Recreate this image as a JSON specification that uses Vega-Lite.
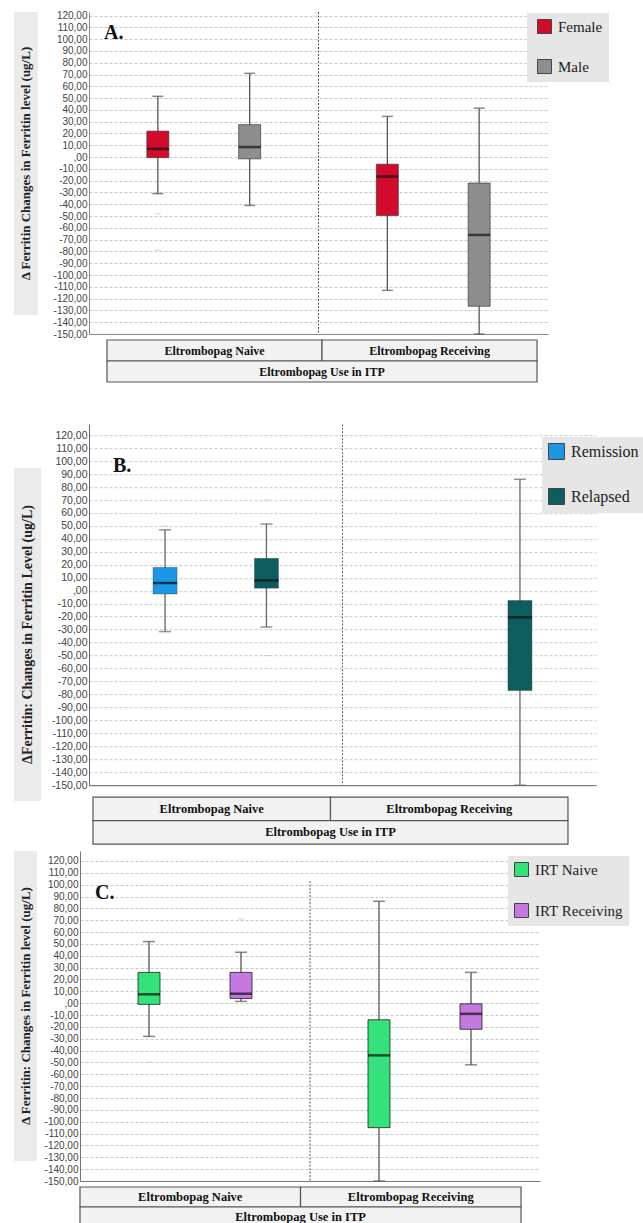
{
  "$schema": "https://vega.github.io/schema/vega-lite/v6.json",
  "background": "white",
  "padding": {"left": 14, "top": 10, "right": 0, "bottom": 0},
  "config": {
    "view": {"stroke": null},
    "font": "Liberation Sans"
  },
  "datasets": {
    "boxA": [
      {"use": "Eltrombopag Naive", "group": "Female", "min": -31, "q1": -0.5, "med": 7, "q3": 22, "max": 51.5},
      {"use": "Eltrombopag Naive", "group": "Male", "min": -41, "q1": -1.5, "med": 8.5, "q3": 27.5, "max": 71},
      {"use": "Eltrombopag Receiving", "group": "Female", "min": -113, "q1": -49.5, "med": -16.5, "q3": -6, "max": 34.5},
      {"use": "Eltrombopag Receiving", "group": "Male", "min": -150, "q1": -126.5, "med": -66, "q3": -22, "max": 41.5}
    ],
    "outA": [
      {"use": "Eltrombopag Naive", "group": "Female", "v": -48},
      {"use": "Eltrombopag Naive", "group": "Female", "v": -79}
    ],
    "boxB": [
      {"use": "Eltrombopag Naive", "group": "Remission", "min": -31.5, "q1": -2.5, "med": 6, "q3": 18, "max": 47},
      {"use": "Eltrombopag Naive", "group": "Relapsed", "min": -28, "q1": 2, "med": 8, "q3": 25, "max": 51.5},
      {"use": "Eltrombopag Receiving", "group": "Relapsed", "min": -150, "q1": -77, "med": -20.5, "q3": -7.5, "max": 86}
    ],
    "outB": [
      {"use": "Eltrombopag Naive", "group": "Remission", "v": 50},
      {"use": "Eltrombopag Naive", "group": "Relapsed", "v": 70},
      {"use": "Eltrombopag Naive", "group": "Relapsed", "v": -50}
    ],
    "boxC": [
      {"use": "Eltrombopag Naive", "group": "IRT Naive", "min": -28, "q1": -1, "med": 7.5, "q3": 26, "max": 52},
      {"use": "Eltrombopag Naive", "group": "IRT Receiving", "min": 1.5, "q1": 4, "med": 8, "q3": 26, "max": 43},
      {"use": "Eltrombopag Receiving", "group": "IRT Naive", "min": -150, "q1": -105, "med": -44, "q3": -14, "max": 86},
      {"use": "Eltrombopag Receiving", "group": "IRT Receiving", "min": -52, "q1": -22, "med": -9, "q3": -0.5, "max": 26}
    ],
    "outC": [
      {"use": "Eltrombopag Naive", "group": "IRT Naive", "v": -50},
      {"use": "Eltrombopag Naive", "group": "IRT Receiving", "v": 71}
    ],
    "div": [{"use": "Eltrombopag Receiving"}],
    "table": [
      {"c0": 0, "c1": 1, "mid": 0.5, "row": "r1", "label": "Eltrombopag Naive"},
      {"c0": 1, "c1": 2, "mid": 1.5, "row": "r1", "label": "Eltrombopag Receiving"},
      {"c0": 0, "c1": 2, "mid": 1, "row": "r2", "label": "Eltrombopag Use in ITP"}
    ]
  },
  "resolve": {"scale": {"color": "independent", "xOffset": "independent"}, "legend": {"color": "independent"}},
  "vconcat": [
    {
      "spacing": 40,
      "resolve": {"scale": {"color": "independent", "xOffset": "independent"}, "legend": {"color": "independent"}},
      "vconcat": [
        {
          "spacing": 15,
          "hconcat": [
            {
              "width": 24, "height": 303,
              "view": {"fill": "#ebebeb", "stroke": null},
              "data": {"values": [{"t": "Δ Ferritin Changes in Ferritin level (ug/L)"}]},
              "mark": {"type": "text", "angle": 270, "font": "Liberation Serif", "fontWeight": "bold", "fontSize": 13, "color": "#222"},
              "encoding": {"text": {"field": "t", "type": "nominal"}}
            },
            {
              "spacing": 0,
              "vconcat": [
                {
                  "width": 459, "height": 322,
                  "title": {"text": "A.", "anchor": "start", "frame": "group", "offset": -32, "dx": 15, "font": "Liberation Serif", "fontSize": 20, "fontWeight": "bold", "color": "#111"},
                  "layer": [
                    {"data": {"name": "boxA"}, "mark": {"type": "rule", "color": "#555", "strokeWidth": 1.3},
                     "encoding": {
                       "x": {"field": "use", "type": "nominal", "scale": {"domain": ["Eltrombopag Naive", "Eltrombopag Receiving"], "paddingInner": 0, "paddingOuter": 0}, "axis": {"title": null, "labels": false, "ticks": false, "grid": false, "domainColor": "#888", "minExtent": 0}},
                       "xOffset": {"field": "group", "type": "nominal", "scale": {"domain": ["Female", "Male"], "paddingInner": 0.5, "paddingOuter": 0.5}},
                       "y": {"field": "min", "type": "quantitative", "scale": {"domain": [-150, 123], "nice": false, "zero": false},
                             "axis": {"values": [-150,-140,-130,-120,-110,-100,-90,-80,-70,-60,-50,-40,-30,-20,-10,0,10,20,30,40,50,60,70,80,90,100,110,120], "tickCount": 30, "labelExpr": "datum.value == 0 ? ',00' : datum.value + ',00'", "labelOverlap": false, "title": null, "grid": true, "gridColor": "#c8c8c8", "gridDash": [3, 2], "ticks": false, "domainColor": "#888", "labelFont": "Liberation Sans", "labelFontSize": 10, "labelColor": "#444", "labelPadding": 2}},
                       "y2": {"field": "max"}}},
                    {"data": {"name": "boxA"}, "mark": {"type": "bar", "size": 22, "stroke": "#333", "strokeWidth": 0.8, "strokeOpacity": 0.8},
                     "encoding": {
                       "x": {"field": "use", "type": "nominal"}, "xOffset": {"field": "group", "type": "nominal"},
                       "y": {"field": "q1", "type": "quantitative"}, "y2": {"field": "q3"},
                       "color": {"field": "group", "type": "nominal", "scale": {"domain": ["Female", "Male"], "range": ["#d20a2c", "#8e8e8e"]},
                                 "legend": {"orient": "none", "legendX": 513, "legendY": 1, "title": null, "fillColor": "#e6e6e6", "padding": 6, "symbolOffset": 4, "symbolType": "square", "symbolSize": 196, "symbolStrokeColor": "#444", "symbolStrokeWidth": 1, "labelFont": "Liberation Serif", "labelFontSize": 15, "labelColor": "#222", "rowPadding": 21, "labelOffset": 6}}}},
                    {"data": {"name": "boxA"}, "mark": {"type": "tick", "color": "#111", "size": 22, "thickness": 2.5},
                     "encoding": {"x": {"field": "use", "type": "nominal"}, "xOffset": {"field": "group", "type": "nominal"}, "y": {"field": "med", "type": "quantitative"}}},
                    {"data": {"name": "boxA"}, "mark": {"type": "tick", "color": "#555", "size": 11, "thickness": 1.5},
                     "encoding": {"x": {"field": "use", "type": "nominal"}, "xOffset": {"field": "group", "type": "nominal"}, "y": {"field": "min", "type": "quantitative"}}},
                    {"data": {"name": "boxA"}, "mark": {"type": "tick", "color": "#555", "size": 11, "thickness": 1.5},
                     "encoding": {"x": {"field": "use", "type": "nominal"}, "xOffset": {"field": "group", "type": "nominal"}, "y": {"field": "max", "type": "quantitative"}}},
                    {"data": {"name": "outA"}, "mark": {"type": "tick", "color": "#c4c4c4", "size": 6, "thickness": 1},
                     "encoding": {"x": {"field": "use", "type": "nominal"}, "xOffset": {"field": "group", "type": "nominal"}, "y": {"field": "v", "type": "quantitative"}}},
                    {"data": {"name": "div"}, "mark": {"type": "rule", "color": "#555", "strokeDash": [2, 1.5], "strokeWidth": 1},
                     "encoding": {"x": {"field": "use", "type": "nominal", "bandPosition": 0}}}
                  ]
                },
                {
                  "width": 459, "height": 42,
                  "data": {"name": "table"},
                  "layer": [
                    {"mark": {"type": "rect", "fill": "#f2f2f2", "stroke": "#555", "strokeWidth": 1.2},
                     "encoding": {
                       "x": {"field": "c0", "type": "quantitative", "scale": {"domain": [-0.0837, 2.051], "nice": false, "zero": false}, "axis": null},
                       "x2": {"field": "c1"},
                       "y": {"field": "row", "type": "nominal", "scale": {"paddingInner": 0, "paddingOuter": 0}, "axis": null}}},
                    {"mark": {"type": "text", "font": "Liberation Serif", "fontWeight": "bold", "fontSize": 12, "color": "#111"},
                     "encoding": {"x": {"field": "mid", "type": "quantitative"}, "y": {"field": "row", "type": "nominal"}, "text": {"field": "label", "type": "nominal"}}}
                  ]
                }
              ]
            }
          ]
        },
        {
          "spacing": 10,
          "center": {"row": true, "column": false},
          "hconcat": [
            {
              "width": 27, "height": 333,
              "view": {"fill": "#ebebeb", "stroke": null},
              "data": {"values": [{"t": "ΔFerritin: Changes in Ferritin Level (ug/L)"}]},
              "mark": {"type": "text", "angle": 270, "font": "Liberation Serif", "fontWeight": "bold", "fontSize": 14, "color": "#222"},
              "encoding": {"text": {"field": "t", "type": "nominal"}}
            },
            {
              "spacing": 5,
              "vconcat": [
                {
                  "width": 507, "height": 361,
                  "title": {"text": "B.", "anchor": "start", "frame": "group", "offset": -52, "dx": 24, "font": "Liberation Serif", "fontSize": 20, "fontWeight": "bold", "color": "#111"},
                  "layer": [
                    {"data": {"name": "boxB"}, "mark": {"type": "rule", "color": "#666", "strokeWidth": 1.3},
                     "encoding": {
                       "x": {"field": "use", "type": "nominal", "scale": {"domain": ["Eltrombopag Naive", "Eltrombopag Receiving"], "paddingInner": 0, "paddingOuter": 0}, "axis": {"title": null, "labels": false, "ticks": false, "grid": false, "domainColor": "#666", "minExtent": 0}},
                       "xOffset": {"field": "group", "type": "nominal", "scale": {"domain": ["Remission", "Relapsed"], "paddingInner": 0.5, "paddingOuter": 0.5}},
                       "y": {"field": "min", "type": "quantitative", "scale": {"domain": [-150, 128.5], "nice": false, "zero": false},
                             "axis": {"values": [-150,-140,-130,-120,-110,-100,-90,-80,-70,-60,-50,-40,-30,-20,-10,0,10,20,30,40,50,60,70,80,90,100,110,120], "tickCount": 30, "labelExpr": "datum.value == 0 ? ',00' : datum.value + ',00'", "labelOverlap": false, "title": null, "grid": true, "gridColor": "#c8c8c8", "gridDash": [3, 2], "ticks": false, "domainColor": "#666", "labelFont": "Liberation Sans", "labelFontSize": 10.5, "labelColor": "#444", "labelPadding": 2}},
                       "y2": {"field": "max"}}},
                    {"data": {"name": "boxB"}, "mark": {"type": "bar", "size": 24, "stroke": "#333", "strokeWidth": 0.6, "strokeOpacity": 0.6},
                     "encoding": {
                       "x": {"field": "use", "type": "nominal"}, "xOffset": {"field": "group", "type": "nominal"},
                       "y": {"field": "q1", "type": "quantitative"}, "y2": {"field": "q3"},
                       "color": {"field": "group", "type": "nominal", "scale": {"domain": ["Remission", "Relapsed"], "range": ["#1e96e6", "#0d5c5e"]},
                                 "legend": {"orient": "none", "legendX": 528, "legendY": 13, "title": null, "fillColor": "#e6e6e6", "padding": 6, "symbolType": "square", "symbolSize": 256, "symbolStrokeColor": "#444", "symbolStrokeWidth": 1, "labelFont": "Liberation Serif", "labelFontSize": 16, "labelColor": "#222", "rowPadding": 24, "labelOffset": 6}}}},
                    {"data": {"name": "boxB"}, "mark": {"type": "tick", "color": "#111", "size": 24, "thickness": 2.5},
                     "encoding": {"x": {"field": "use", "type": "nominal"}, "xOffset": {"field": "group", "type": "nominal"}, "y": {"field": "med", "type": "quantitative"}}},
                    {"data": {"name": "boxB"}, "mark": {"type": "tick", "color": "#666", "size": 12, "thickness": 1.5},
                     "encoding": {"x": {"field": "use", "type": "nominal"}, "xOffset": {"field": "group", "type": "nominal"}, "y": {"field": "min", "type": "quantitative"}}},
                    {"data": {"name": "boxB"}, "mark": {"type": "tick", "color": "#666", "size": 12, "thickness": 1.5},
                     "encoding": {"x": {"field": "use", "type": "nominal"}, "xOffset": {"field": "group", "type": "nominal"}, "y": {"field": "max", "type": "quantitative"}}},
                    {"data": {"name": "outB"}, "mark": {"type": "tick", "color": "#c4c4c4", "size": 6, "thickness": 1},
                     "encoding": {"x": {"field": "use", "type": "nominal"}, "xOffset": {"field": "group", "type": "nominal"}, "y": {"field": "v", "type": "quantitative"}}},
                    {"data": {"name": "div"}, "mark": {"type": "rule", "color": "#666", "strokeDash": [2, 1.5], "strokeWidth": 1},
                     "encoding": {"x": {"field": "use", "type": "nominal", "bandPosition": 0}}}
                  ]
                },
                {
                  "width": 507, "height": 47,
                  "data": {"name": "table"},
                  "layer": [
                    {"mark": {"type": "rect", "fill": "#f2f2f2", "stroke": "#555", "strokeWidth": 1.2},
                     "encoding": {
                       "x": {"field": "c0", "type": "quantitative", "scale": {"domain": [-0.0168, 2.118], "nice": false, "zero": false}, "axis": null},
                       "x2": {"field": "c1"},
                       "y": {"field": "row", "type": "nominal", "scale": {"paddingInner": 0, "paddingOuter": 0}, "axis": null}}},
                    {"mark": {"type": "text", "font": "Liberation Serif", "fontWeight": "bold", "fontSize": 12.5, "color": "#111"},
                     "encoding": {"x": {"field": "mid", "type": "quantitative"}, "y": {"field": "row", "type": "nominal"}, "text": {"field": "label", "type": "nominal"}}}
                  ]
                }
              ]
            }
          ]
        }
      ]
    },
    {
      "spacing": 7,
      "hconcat": [
        {
          "width": 23, "height": 310,
          "view": {"fill": "#ebebeb", "stroke": null},
          "data": {"values": [{"t": "Δ Ferritin: Changes in Ferritin level (ug/L)"}]},
          "mark": {"type": "text", "angle": 270, "font": "Liberation Serif", "fontWeight": "bold", "fontSize": 13, "color": "#222"},
          "encoding": {"text": {"field": "t", "type": "nominal"}}
        },
        {
          "spacing": 0,
          "vconcat": [
            {
              "width": 460, "height": 330,
              "title": {"text": "C.", "anchor": "start", "frame": "group", "offset": -52, "dx": 15, "font": "Liberation Serif", "fontSize": 20, "fontWeight": "bold", "color": "#111"},
              "layer": [
                {"data": {"name": "boxC"}, "mark": {"type": "rule", "color": "#555", "strokeWidth": 1.3},
                 "encoding": {
                   "x": {"field": "use", "type": "nominal", "scale": {"domain": ["Eltrombopag Naive", "Eltrombopag Receiving"], "paddingInner": 0, "paddingOuter": 0}, "axis": {"title": null, "labels": false, "ticks": false, "grid": false, "domainColor": "#777", "minExtent": 0}},
                   "xOffset": {"field": "group", "type": "nominal", "scale": {"domain": ["IRT Naive", "IRT Receiving"], "paddingInner": 0.5, "paddingOuter": 0.5}},
                   "y": {"field": "min", "type": "quantitative", "scale": {"domain": [-150, 128.4], "nice": false, "zero": false},
                         "axis": {"values": [-150,-140,-130,-120,-110,-100,-90,-80,-70,-60,-50,-40,-30,-20,-10,0,10,20,30,40,50,60,70,80,90,100,110,120], "tickCount": 30, "labelExpr": "datum.value == 0 ? ',00' : datum.value + ',00'", "labelOverlap": false, "title": null, "grid": true, "gridColor": "#c8c8c8", "gridDash": [3, 2], "ticks": false, "domainColor": "#777", "labelFont": "Liberation Sans", "labelFontSize": 10, "labelColor": "#444", "labelPadding": 2}},
                   "y2": {"field": "max"}}},
                {"data": {"name": "boxC"}, "mark": {"type": "bar", "size": 22, "stroke": "#222", "strokeWidth": 1, "strokeOpacity": 0.8},
                 "encoding": {
                   "x": {"field": "use", "type": "nominal"}, "xOffset": {"field": "group", "type": "nominal"},
                   "y": {"field": "q1", "type": "quantitative"}, "y2": {"field": "q3"},
                   "color": {"field": "group", "type": "nominal", "scale": {"domain": ["IRT Naive", "IRT Receiving"], "range": ["#33e27a", "#c479e0"]},
                             "legend": {"orient": "none", "legendX": 494, "legendY": 5, "title": null, "fillColor": "#e6e6e6", "padding": 6, "symbolType": "square", "symbolSize": 196, "symbolStrokeColor": "#444", "symbolStrokeWidth": 1, "labelFont": "Liberation Serif", "labelFontSize": 15, "labelColor": "#222", "rowPadding": 22, "labelOffset": 6}}}},
                {"data": {"name": "boxC"}, "mark": {"type": "tick", "color": "#111", "size": 22, "thickness": 2.5},
                 "encoding": {"x": {"field": "use", "type": "nominal"}, "xOffset": {"field": "group", "type": "nominal"}, "y": {"field": "med", "type": "quantitative"}}},
                {"data": {"name": "boxC"}, "mark": {"type": "tick", "color": "#555", "size": 12, "thickness": 1.5},
                 "encoding": {"x": {"field": "use", "type": "nominal"}, "xOffset": {"field": "group", "type": "nominal"}, "y": {"field": "min", "type": "quantitative"}}},
                {"data": {"name": "boxC"}, "mark": {"type": "tick", "color": "#555", "size": 12, "thickness": 1.5},
                 "encoding": {"x": {"field": "use", "type": "nominal"}, "xOffset": {"field": "group", "type": "nominal"}, "y": {"field": "max", "type": "quantitative"}}},
                {"data": {"name": "outC"}, "mark": {"type": "tick", "color": "#c4c4c4", "size": 6, "thickness": 1},
                 "encoding": {"x": {"field": "use", "type": "nominal"}, "xOffset": {"field": "group", "type": "nominal"}, "y": {"field": "v", "type": "quantitative"}}},
                {"data": {"name": "div"}, "mark": {"type": "rule", "color": "#555", "strokeDash": [2, 1.5], "strokeWidth": 1},
                 "encoding": {"x": {"field": "use", "type": "nominal", "bandPosition": 0}, "y": {"datum": 103}, "y2": {"datum": -150}}}
              ]
            },
            {
              "width": 460, "height": 40,
              "data": {"name": "table"},
              "layer": [
                {"mark": {"type": "rect", "fill": "#f2f2f2", "stroke": "#555", "strokeWidth": 1.2},
                 "encoding": {
                   "x": {"field": "c0", "type": "quantitative", "scale": {"domain": [0, 2.086], "nice": false, "zero": false}, "axis": null},
                   "x2": {"field": "c1"},
                   "y": {"field": "row", "type": "nominal", "scale": {"paddingInner": 0, "paddingOuter": 0}, "axis": null}}},
                {"mark": {"type": "text", "font": "Liberation Serif", "fontWeight": "bold", "fontSize": 12.5, "color": "#111"},
                 "encoding": {"x": {"field": "mid", "type": "quantitative"}, "y": {"field": "row", "type": "nominal"}, "text": {"field": "label", "type": "nominal"}}}
              ]
            }
          ]
        }
      ]
    }
  ],
  "spacing": 6
}
